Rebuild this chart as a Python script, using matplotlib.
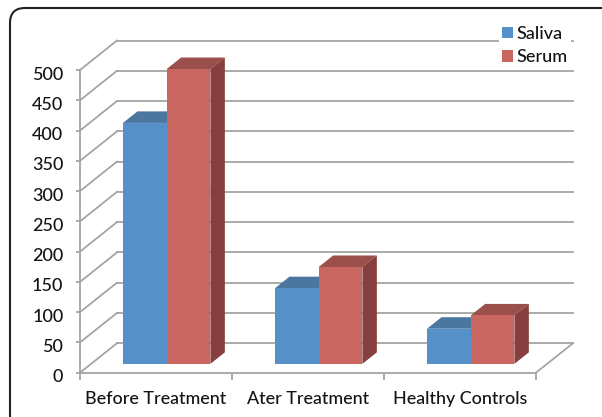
import matplotlib
matplotlib.use('Agg')
import matplotlib.pyplot as plt
from matplotlib.patches import FancyBboxPatch, Patch, Polygon
from matplotlib.transforms import Affine2D, IdentityTransform, ScaledTranslation

categories = ['Before Treatment', 'Ater Treatment', 'Healthy Controls']
saliva = [398, 125, 58]
serum = [487, 160, 80]
y_ticks = [0, 50, 100, 150, 200, 250, 300, 350, 400, 450, 500]

GRID = '#a3a5a5'
TEXT = '#141414'
DEPTH = (37, 29.5)     # back wall offset from the front plane, in px
BAR_GAP = 0.21         # start of first bar in a category
BAR_W = 0.2875
BAR_D0, BAR_D1 = 0.30, 0.69   # bar front/back as a share of the depth

plt.rcParams['font.family'] = ['Lato', 'DejaVu Sans']
plt.rcParams['font.weight'] = 'medium'

W, H = 602, 417
fig = plt.figure(figsize=(W / 100, H / 100), dpi=100)
ax = fig.add_axes([80 / W, (H - 372.7) / H, 456 / W, 302.7 / H])
ax.set_xlim(0, 3)
ax.set_ylim(0, 500)
ax.patch.set_alpha(0)


def at_depth(d):
    return ax.transData + Affine2D().translate(DEPTH[0] * d, DEPTH[1] * d)


def wall_line(x, v):
    p = ax.transData.transform((x, v))
    ax.plot([p[0], p[0] + DEPTH[0]], [p[1], p[1] + DEPTH[1]], color=GRID, lw=1.3,
            transform=IdentityTransform(), clip_on=False, zorder=1)


# rounded frame, runs off the right and bottom of the picture
frame = FancyBboxPatch((10, 8), 640, 440, boxstyle='round,pad=0,rounding_size=15',
                       fc='white', ec='#222222', lw=1.5, zorder=0)
frame.set_transform(Affine2D().scale(1, -1).translate(0, H))
fig.add_artist(frame)

# walls
for v in y_ticks:
    ax.plot([0, 3], [v, v], color=GRID, lw=1.3, clip_on=False, transform=at_depth(1), zorder=1)
    wall_line(0, v)
wall_line(3, 0)


def draw_bar(x, v, front, top, side, z):
    w = x + BAR_W
    ax.add_patch(Polygon([(x, 0), (w, 0), (w, v), (x, v)], fc=front, ec='none',
                         transform=at_depth(BAR_D0), clip_on=False, zorder=z + 1))
    p0 = at_depth(BAR_D0).transform([(x, v), (w, v), (w, 0)])
    p1 = at_depth(BAR_D1).transform([(x, v), (w, v), (w, 0)])
    ax.add_patch(Polygon([p0[0], p0[1], p1[1], p1[0]], fc=top, ec='none',
                         transform=IdentityTransform(), clip_on=False, zorder=z))
    ax.add_patch(Polygon([p0[1], p1[1], p1[2], p0[2]], fc=side, ec='none',
                         transform=IdentityTransform(), clip_on=False, zorder=z))


for i in range(len(categories)):
    x = i + BAR_GAP
    draw_bar(x, saliva[i], '#5590c8', '#4a76a0', '#3f658c', 3)
    draw_bar(x + BAR_W, serum[i], '#c8665f', '#9a4f4a', '#863f3e', 5)

for s in ['top', 'right']:
    ax.spines[s].set_visible(False)
for s in ['left', 'bottom']:
    ax.spines[s].set_color(GRID)
    ax.spines[s].set_linewidth(1.3)

ax.set_yticks(y_ticks)
ax.set_xticks([0, 1, 2, 3])
ax.set_xticklabels([])
ax.set_xticks([0.5, 1.5, 2.5], minor=True)
ax.set_xticklabels(categories, minor=True)
ax.tick_params(axis='y', length=3, color=GRID, width=1.3, labelsize=13, pad=9, labelcolor=TEXT)
ax.tick_params(axis='x', which='major', length=5, color=GRID, width=1.3)
ax.tick_params(axis='x', which='minor', length=0, labelsize=12.9, pad=13, labelcolor=TEXT)

# y labels sit a little below their ticks
shift = ScaledTranslation(0, -3 / 100, fig.dpi_scale_trans)
for lab in ax.get_yticklabels():
    lab.set_transform(lab.get_transform() + shift)

handles = [Patch(fc='#5590c8', label='Saliva'), Patch(fc='#c8665f', label='Serum')]
leg = fig.legend(handles=handles, loc='upper left', bbox_to_anchor=(499 / W, 1 - 23 / H),
                 bbox_transform=fig.transFigure, frameon=True, facecolor='white', edgecolor='none',
                 fancybox=False, framealpha=1, fontsize=13, handlelength=0.62, handleheight=0.62,
                 handletextpad=0.22, labelspacing=0.42, borderpad=0.15, borderaxespad=0,
                 labelcolor=TEXT)
leg.set_zorder(10)

fig.savefig('out.png', dpi=100)
